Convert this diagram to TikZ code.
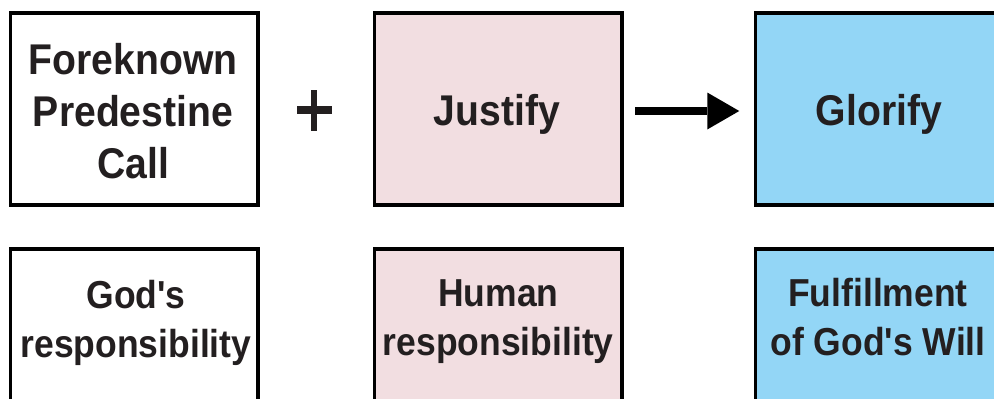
\documentclass[tikz,border=0pt]{standalone}
\usepackage{fontspec}
\newfontfamily\lblfont[FakeStretch=0.91]{Liberation Sans}
\usetikzlibrary{arrows.meta}
\definecolor{pinkbox}{RGB}{242,222,225}
\definecolor{bluebox}{RGB}{147,214,246}
\definecolor{ink}{RGB}{35,31,32}
\begin{document}
\begin{tikzpicture}[x=1pt,y=-1pt,
  box/.style={draw=black, line width=3.5pt, inner sep=0pt, minimum width=247.5pt},
  topbox/.style={box, minimum height=192pt},
  lowbox/.style={box, minimum height=192pt},
  toptext/.style={font=\lblfont\bfseries\fontsize{43}{52}\selectfont, text=ink, align=center, inner sep=0pt, anchor=north},
  lowtext/.style={font=\lblfont\bfseries\fontsize{39}{48.5}\selectfont, text=ink, align=center, inner sep=0pt, anchor=north},
  bigarrow/.style={line width=7.7pt, -{Triangle[length=32pt,width=37pt,line width=0pt]}}
]
\useasboundingbox (0,0) rectangle (994,399);
\fill[white] (0,0) rectangle (994,399);
% top row
\node[topbox, fill=white] (b1) at (134.25,109) {};
\node[topbox, fill=pinkbox] (b2) at (498.25,109) {};
\node[topbox, fill=bluebox] (b3) at (879,109) {};
% bottom row
\node[lowbox, fill=white] (b4) at (134.25,345) {};
\node[lowbox, fill=pinkbox] (b5) at (498.25,345) {};
\node[lowbox, fill=bluebox] (b6) at (879,345) {};
% texts
\node[toptext] (t1) at (133,43.5) {Foreknown\\Predestine\\Call};
\node[toptext] (t2) at (497,94.5) {Justify};
\node[toptext] (t3) at (879,94.5) {Glorify};
\node[lowtext] (t4) at (136,280.5) {God's\\responsibility};
\node[lowtext] (t5) at (498.3,279.5) {Human\\responsibility};
\node[lowtext] (t6) at (878,278.5) {Fulfillment\\of God's Will};
% plus
\fill[ink] (311,90) rectangle (317.3,131);
\fill[ink] (297,106) rectangle (331.7,114);
% arrow
\draw[bigarrow] ([xshift=11.25pt,yshift=-2pt]b2.east) -- ([xshift=-14.25pt,yshift=-2pt]b3.west);
\end{tikzpicture}
\end{document}
